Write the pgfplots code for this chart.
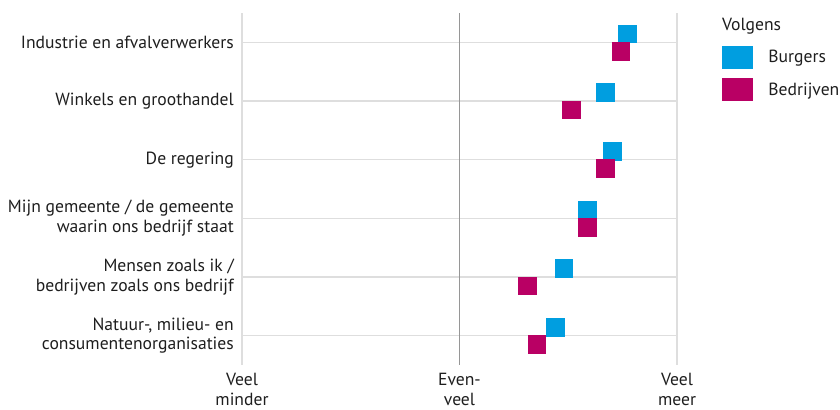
\documentclass[border=0pt]{standalone}
\usepackage{fontspec}
\setmainfont{PT Sans}
\usepackage{pgfplots}
\pgfplotsset{compat=1.18}
\definecolor{burg}{RGB}{0,158,224}
\definecolor{bedr}{RGB}{185,0,100}
\definecolor{gridc}{RGB}{222,222,222}
\definecolor{zeroc}{RGB}{150,150,150}
\definecolor{txt}{RGB}{30,30,30}
\newcommand{\lblfont}{\fontsize{17.6bp}{19.5bp}\selectfont}
\begin{document}
\begin{tikzpicture}
\begin{axis}[
  scale only axis,
  width=435bp, height=352bp,
  at={(242bp,45bp)}, anchor=south west,
  xmin=-1, xmax=1, ymin=-0.5, ymax=5.5,
  y dir=reverse,
  axis line style={draw=none},
  major tick length=0pt,
  xtick={-1,1},
  xticklabels={{Veel\\minder},{Veel\\meer}},
  extra x ticks={0},
  extra x tick labels={{Even-\\veel}},
  extra x tick style={grid style={draw=zeroc, line width=1.3bp}},
  xmajorgrids, ymajorgrids,
  grid style={draw=gridc, line width=1.3bp},
  ytick={0,1,2,3,4,5},
  yticklabels={
    {Industrie en afvalverwerkers},
    {Winkels en groothandel},
    {De regering},
    {Mijn gemeente / de gemeente\\waarin ons bedrijf staat},
    {Mensen zoals ik /\\bedrijven zoals ons bedrijf},
    {Natuur-, milieu- en\\consumentenorganisaties}},
  tick label style={font=\lblfont, text=txt, inner sep=0pt},
  x tick label style={align=center, yshift=-8bp},
  y tick label style={align=right, xshift=-8bp},
  legend style={at={(rel axis cs:1.1034,0.906)}, anchor=north west,
    draw=none, fill=none, inner sep=0pt, outer sep=0pt,
    row sep=10bp, column sep=16bp,
    nodes={inner sep=0pt, anchor=west, font=\lblfont, text=txt}},
  legend cell align=left,
  legend image code/.code={\fill (0bp,-11bp) rectangle (30bp,11bp);},
  clip=false,
]
\addplot[only marks, color=burg, mark=square*, mark size=8.75bp,
  mark options={draw=none, fill=burg}]
  coordinates {(0.770,-0.148) (0.669,0.852) (0.701,1.852) (0.588,2.852) (0.480,3.852) (0.441,4.852)};
\addlegendentry{Burgers}
\addplot[only marks, color=bedr, mark=square*, mark size=8.75bp,
  mark options={draw=none, fill=bedr}]
  coordinates {(0.741,0.148) (0.514,1.148) (0.669,2.148) (0.586,3.148) (0.312,4.148) (0.356,5.148)};
\addlegendentry{Bedrijven}
\node[anchor=base west, inner sep=0pt, font=\lblfont, text=txt] at (rel axis cs:1.1034,0.9497) {Volgens};
\end{axis}
\pgfresetboundingbox
\path (0,0) rectangle (840bp,410bp);
\end{tikzpicture}
\end{document}
